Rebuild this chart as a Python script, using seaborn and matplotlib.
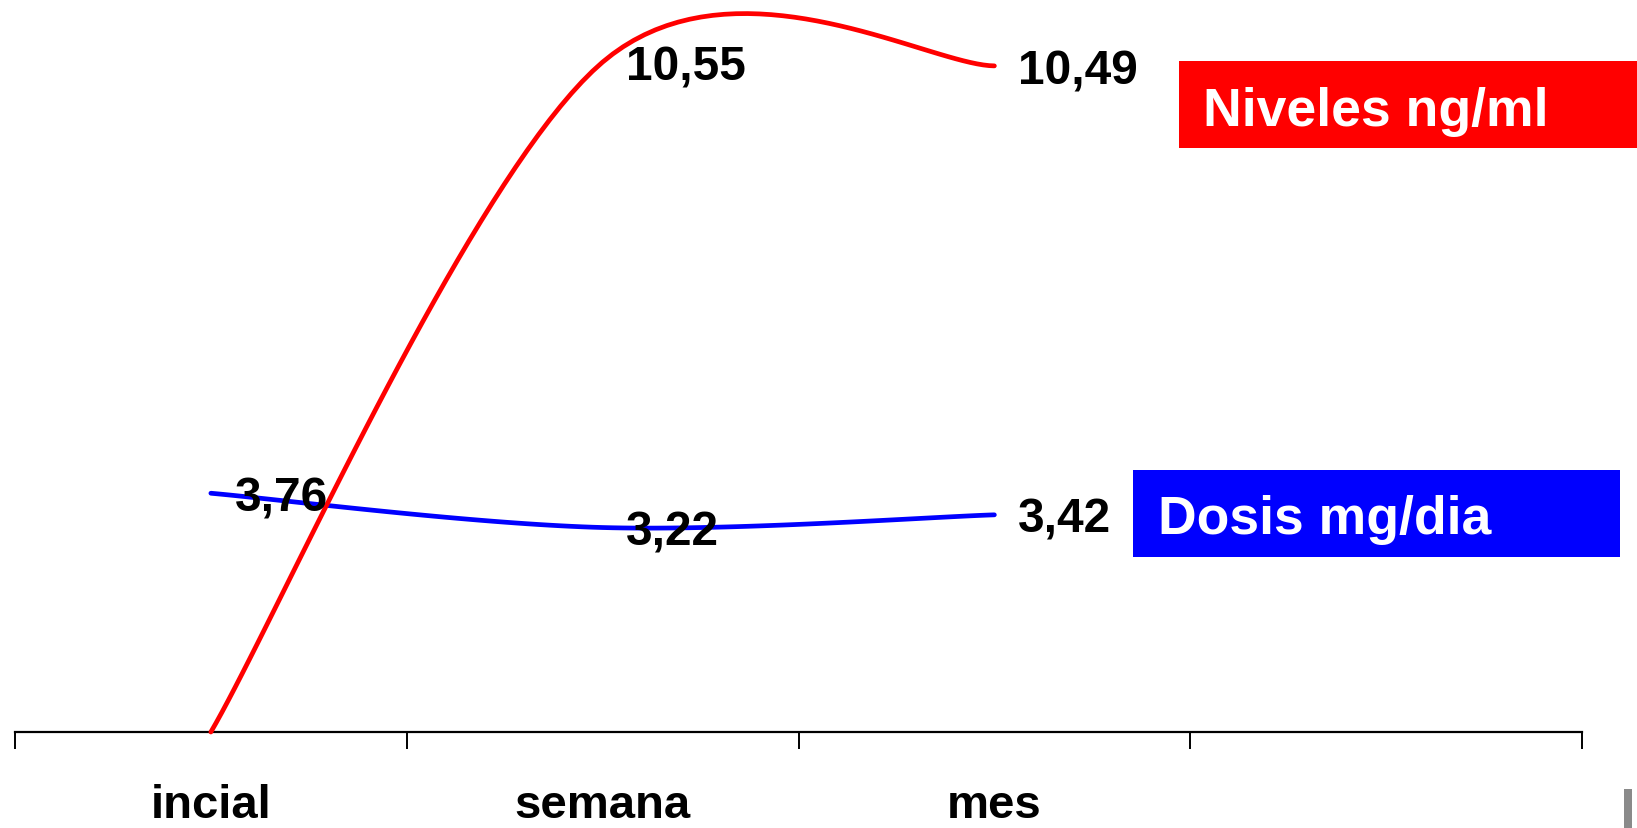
import numpy as np
import pandas as pd
import matplotlib
matplotlib.use("Agg")
import matplotlib.pyplot as plt
from matplotlib.patches import Rectangle
import seaborn as sns

# --- data -------------------------------------------------------------
categories = ["incial", "semana", "mes"]
niveles = [0.0, 10.55, 10.49]      # ng/ml
dosis = [3.76, 3.22, 3.42]         # mg/dia
niveles_labels = [None, "10,55", "10,49"]
dosis_labels = ["3,76", "3,22", "3,42"]
n_slots = 4                        # category slots on the axis (last one empty)

RED = "#FF0000"
BLUE = "#0000FF"
FONT = ["Liberation Sans", "DejaVu Sans"]


def smooth_curve(xs, ys, steps=40):
    """Cardinal (Catmull-Rom) Bezier smoothing through the given points."""
    pts = np.column_stack([xs, ys]).astype(float)
    n = len(pts)
    out = [pts[0]]
    for i in range(n - 1):
        p0 = pts[max(i - 1, 0)]
        p1 = pts[i]
        p2 = pts[i + 1]
        p3 = pts[min(i + 2, n - 1)]
        c1 = p1 + (p2 - p0) / 6.0
        c2 = p2 - (p3 - p1) / 6.0
        t = np.linspace(0, 1, steps)[1:, None]
        seg = ((1 - t) ** 3) * p1 + 3 * ((1 - t) ** 2) * t * c1 \
            + 3 * (1 - t) * t ** 2 * c2 + t ** 3 * p2
        out.extend(seg)
    out = np.array(out)
    return out[:, 0], out[:, 1]


sns.set_theme(style="white")
plt.rcParams["font.family"] = FONT

W, H, DPI = 1637, 829, 100
fig = plt.figure(figsize=(W / DPI, H / DPI), dpi=DPI)
fig.patch.set_facecolor("white")

# axes placement in pixels
ax_left, ax_right = 15, 1582
ax_bottom = 733
y_top_val = 11.5
px_per_unit = 63.5
ax_height = y_top_val * px_per_unit
ax = fig.add_axes([ax_left / W, 1 - ax_bottom / H,
                   (ax_right - ax_left) / W, ax_height / H])
ax.set_facecolor("none")

x_idx = np.arange(len(categories))
bx, by = smooth_curve(x_idx, dosis)
rx, ry = smooth_curve(x_idx, niveles)

df_b = pd.DataFrame({"x": bx, "y": by})
df_r = pd.DataFrame({"x": rx, "y": ry})
sns.lineplot(data=df_b, x="x", y="y", sort=False, estimator=None,
             color=BLUE, linewidth=3.4, ax=ax, clip_on=False,
             solid_capstyle="round", zorder=3)
sns.lineplot(data=df_r, x="x", y="y", sort=False, estimator=None,
             color=RED, linewidth=3.4, ax=ax, clip_on=False,
             solid_capstyle="round", zorder=4)

# value labels, to the right of each point, cap height centred on the point
LABEL_SIZE = 34.5
cap_half = 0.716 * LABEL_SIZE / 2


def value_label(xi, v, text):
    ax.annotate(text, (xi, v), xytext=(17, -cap_half),
                textcoords="offset points", ha="left", va="baseline",
                fontsize=LABEL_SIZE, fontweight="bold", color="black",
                zorder=6, family=FONT)


for xi, (v, lab) in enumerate(zip(niveles, niveles_labels)):
    if lab:
        value_label(xi, v, lab)
for xi, (v, lab) in enumerate(zip(dosis, dosis_labels)):
    value_label(xi, v, lab)

ax.set_xlim(-0.5, n_slots - 0.5)
ax.set_ylim(0, y_top_val)

# category labels centred in the slots, tick marks on slot boundaries
ax.set_xticks(x_idx)
ax.set_xticklabels(categories, fontsize=34, fontweight="bold", family=FONT)
ax.set_xticks(np.arange(n_slots + 1) - 0.5, minor=True)
ax.tick_params(axis="x", which="major", length=0, pad=37, colors="black")
ax.tick_params(axis="x", which="minor", length=12, width=1.4,
               direction="out", color="black", bottom=True)
ax.set_yticks([])
ax.set_xlabel("")
ax.set_ylabel("")

for side in ["top", "right", "left"]:
    ax.spines[side].set_visible(False)
ax.spines["bottom"].set_color("black")
ax.spines["bottom"].set_linewidth(1.6)


# legend boxes
def px_rect(x0, y0, x1, y1, color):
    fig.patches.append(Rectangle((x0 / W, 1 - y1 / H), (x1 - x0) / W,
                                 (y1 - y0) / H, transform=fig.transFigure,
                                 facecolor=color, edgecolor="none", zorder=1))


px_rect(1179, 62, 1637, 149, RED)
fig.text(1203 / W, 1 - 126 / H, "Niveles ng/ml", color="white",
         fontsize=38.5, fontweight="bold", ha="left", va="baseline",
         family=FONT, zorder=5)

px_rect(1133, 471, 1620, 558, BLUE)
fig.text(1158 / W, 1 - 534 / H, "Dosis mg/dia", color="white",
         fontsize=38.5, fontweight="bold", ha="left", va="baseline",
         family=FONT, zorder=5)

# small grey edge at the lower right
px_rect(1624, 790, 1632, 829, "#8a8a8a")

fig.savefig("out.png", dpi=DPI, facecolor="white")
